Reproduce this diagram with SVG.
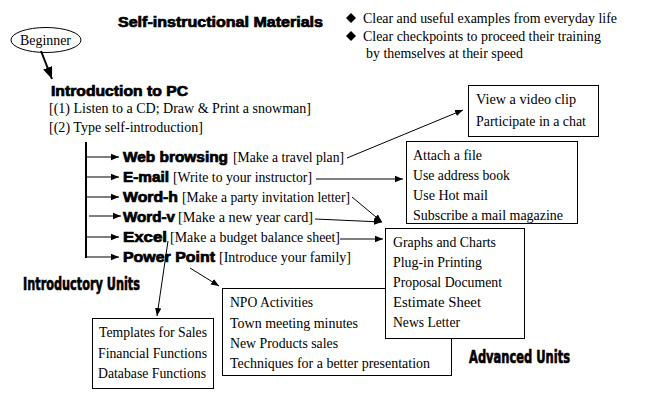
<svg xmlns="http://www.w3.org/2000/svg" width="665" height="416" viewBox="0 0 665 416">
<defs>
<style>
.s{font-family:"Liberation Serif","Times New Roman",serif;font-size:14px;fill:#000}
.b{font-family:"Liberation Sans",Arial,sans-serif;font-weight:900;font-size:14px;fill:#000;stroke:#000;stroke-width:0.7}
.u{font-family:"Liberation Sans Narrow","DejaVu Sans Condensed","Liberation Sans",sans-serif;font-weight:bold;font-size:17px;fill:#000;stroke:#000;stroke-width:0.6}
.box{fill:#fff;stroke:#000;stroke-width:1}
.ln{stroke:#000;stroke-width:1;fill:none}
.lt{stroke:#000;stroke-width:2;fill:none}
</style>
<marker id="ah" viewBox="0 0 10 10" refX="10" refY="5" markerWidth="8" markerHeight="8" markerUnits="userSpaceOnUse" orient="auto">
<path d="M0,1 L10,5 L0,9 Z" fill="#000"/>
</marker>
<marker id="ah2" viewBox="0 0 10 10" refX="10" refY="5" markerWidth="6" markerHeight="6" orient="auto">
<path d="M0,1 L10,5 L0,9 Z" fill="#000"/>
</marker>
</defs>

<g id="title">
<text class="b" x="118" y="27" textLength="205" lengthAdjust="spacingAndGlyphs">Self-instructional Materials</text>
</g>

<g id="features">
<polygon points="351,13 356,18 351,23 346,18" fill="#000"/>
<text class="s" x="363" y="23" textLength="254" lengthAdjust="spacingAndGlyphs">Clear and useful examples from everyday life</text>
<polygon points="351,31 356,36 351,41 346,36" fill="#000"/>
<text class="s" x="363" y="41" textLength="238" lengthAdjust="spacingAndGlyphs">Clear checkpoints to proceed their training</text>
<text class="s" x="366" y="58" textLength="157" lengthAdjust="spacingAndGlyphs">by themselves at their speed</text>
</g>

<g id="beginner">
<ellipse cx="46" cy="40" rx="35" ry="12.5" fill="#fff" stroke="#000" stroke-width="1"/>
<text class="s" x="20" y="45" textLength="51" lengthAdjust="spacingAndGlyphs">Beginner</text>
</g>

<g id="intro">
<text class="b" x="51" y="96" textLength="137" lengthAdjust="spacingAndGlyphs">Introduction to PC</text>
<text class="s" x="49" y="113" textLength="262" lengthAdjust="spacingAndGlyphs">[(1) Listen to a CD; Draw &amp; Print a snowman]</text>
<text class="s" x="49" y="132" textLength="154" lengthAdjust="spacingAndGlyphs">[(2) Type self-introduction]</text>
</g>

<g id="units-left">
<text class="b" x="123" y="162" textLength="105" lengthAdjust="spacingAndGlyphs">Web browsing</text>
<text class="s" x="233" y="162" textLength="111" lengthAdjust="spacingAndGlyphs">[Make a travel plan]</text>
<text class="b" x="123" y="182" textLength="46" lengthAdjust="spacingAndGlyphs">E-mail</text>
<text class="s" x="173" y="182" textLength="139" lengthAdjust="spacingAndGlyphs">[Write to your instructor]</text>
<text class="b" x="123" y="202" textLength="55" lengthAdjust="spacingAndGlyphs">Word-h</text>
<text class="s" x="182" y="202" textLength="168" lengthAdjust="spacingAndGlyphs">[Make a party invitation letter]</text>
<text class="b" x="123" y="222" textLength="52" lengthAdjust="spacingAndGlyphs">Word-v</text>
<text class="s" x="178" y="222" textLength="135" lengthAdjust="spacingAndGlyphs">[Make a new year card]</text>
<text class="b" x="123" y="242" textLength="44" lengthAdjust="spacingAndGlyphs">Excel</text>
<text class="s" x="170" y="242" textLength="170" lengthAdjust="spacingAndGlyphs">[Make a budget balance sheet]</text>
<text class="b" x="123" y="262" textLength="92" lengthAdjust="spacingAndGlyphs">Power Point</text>
<text class="s" x="219" y="262" textLength="132" lengthAdjust="spacingAndGlyphs">[Introduce your family]</text>
</g>

<g id="label-intro">
<text class="u" x="23" y="290" textLength="117" lengthAdjust="spacingAndGlyphs">Introductory Units</text>
</g>
<g id="label-adv">
<text class="u" x="469" y="363" textLength="101" lengthAdjust="spacingAndGlyphs">Advanced Units</text>
</g>

<g id="box-web">
<rect class="box" x="468.5" y="85.5" width="130" height="51"/>
<text class="s" x="476" y="104" textLength="100" lengthAdjust="spacingAndGlyphs">View a video clip</text>
<text class="s" x="476" y="126" textLength="110" lengthAdjust="spacingAndGlyphs">Participate in a chat</text>
</g>

<g id="box-mail">
<rect class="box" x="406.5" y="141.5" width="171" height="82"/>
<text class="s" x="413" y="160" textLength="69" lengthAdjust="spacingAndGlyphs">Attach a file</text>
<text class="s" x="413" y="180" textLength="97" lengthAdjust="spacingAndGlyphs">Use address book</text>
<text class="s" x="413" y="200" textLength="75" lengthAdjust="spacingAndGlyphs">Use Hot mail</text>
<text class="s" x="413" y="220" textLength="150" lengthAdjust="spacingAndGlyphs">Subscribe a mail magazine</text>
</g>

<g id="box-ppt">
<rect class="box" x="222.5" y="288.5" width="229" height="87"/>
<text class="s" x="230" y="307" textLength="83" lengthAdjust="spacingAndGlyphs">NPO Activities</text>
<text class="s" x="230" y="328" textLength="128" lengthAdjust="spacingAndGlyphs">Town meeting minutes</text>
<text class="s" x="230" y="348" textLength="108" lengthAdjust="spacingAndGlyphs">New Products sales</text>
<text class="s" x="230" y="368" textLength="200" lengthAdjust="spacingAndGlyphs">Techniques for a better presentation</text>
</g>

<g id="box-word">
<rect class="box" x="385.5" y="228.5" width="139" height="110"/>
<text class="s" x="393" y="247" textLength="103" lengthAdjust="spacingAndGlyphs">Graphs and Charts</text>
<text class="s" x="393" y="267" textLength="89" lengthAdjust="spacingAndGlyphs">Plug-in Printing</text>
<text class="s" x="393" y="287" textLength="109" lengthAdjust="spacingAndGlyphs">Proposal Document</text>
<text class="s" x="393" y="307" textLength="88" lengthAdjust="spacingAndGlyphs">Estimate Sheet</text>
<text class="s" x="393" y="327" textLength="67" lengthAdjust="spacingAndGlyphs">News Letter</text>
</g>

<g id="box-excel">
<rect class="box" x="92.5" y="318.5" width="121" height="70"/>
<text class="s" x="99" y="337" textLength="108" lengthAdjust="spacingAndGlyphs">Templates for Sales</text>
<text class="s" x="98" y="358" textLength="109" lengthAdjust="spacingAndGlyphs">Financial Functions</text>
<text class="s" x="98" y="378" textLength="108" lengthAdjust="spacingAndGlyphs">Database Functions</text>
</g>

<g id="connectors">
<line class="lt" x1="41" y1="51" x2="52" y2="79" marker-end="url(#ah2)"/>
<line class="lt" x1="86" y1="142" x2="86" y2="258"/>
<line class="ln" x1="86" y1="157" x2="119" y2="157" marker-end="url(#ah)"/>
<line class="ln" x1="86" y1="177" x2="119" y2="177" marker-end="url(#ah)"/>
<line class="ln" x1="86" y1="197" x2="119" y2="197" marker-end="url(#ah)"/>
<line class="ln" x1="89" y1="216" x2="121" y2="216" marker-end="url(#ah)"/>
<line class="ln" x1="86" y1="237" x2="119" y2="237" marker-end="url(#ah)"/>
<line class="ln" x1="86" y1="257" x2="119" y2="257" marker-end="url(#ah)"/>
<line class="ln" x1="347" y1="158" x2="463" y2="110" marker-end="url(#ah)"/>
<line class="ln" x1="316" y1="179" x2="403" y2="179" marker-end="url(#ah)"/>
<line class="ln" x1="352" y1="197" x2="382" y2="222" marker-end="url(#ah)"/>
<line class="ln" x1="315" y1="219" x2="382" y2="222" marker-end="url(#ah)"/>
<line class="ln" x1="340" y1="239" x2="383" y2="239" marker-end="url(#ah)"/>
<line class="ln" x1="168" y1="241" x2="157" y2="316" marker-end="url(#ah)"/>
<line class="ln" x1="190" y1="268" x2="219" y2="286" marker-end="url(#ah)"/>
</g>
</svg>
